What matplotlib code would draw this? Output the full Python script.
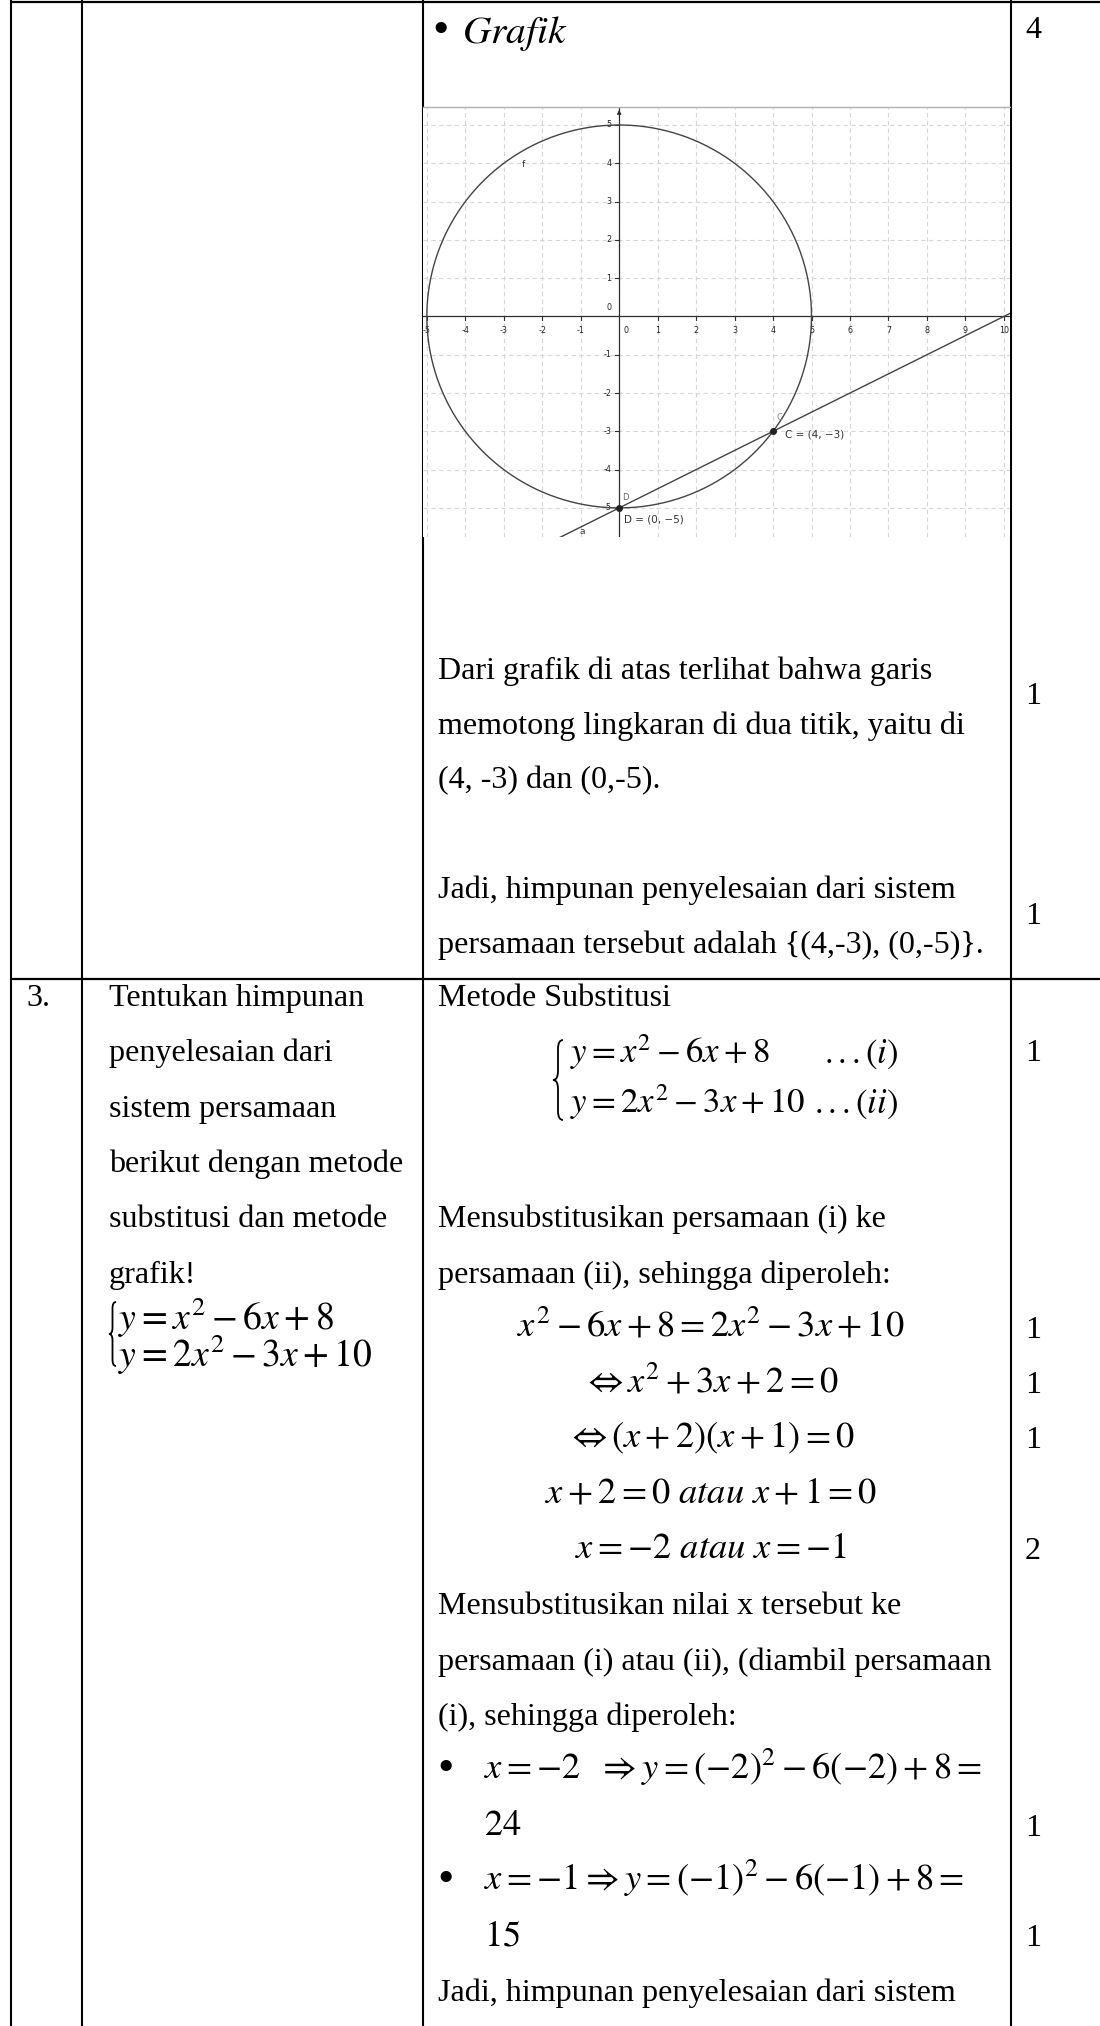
import numpy as np
import matplotlib
matplotlib.use('Agg')
import matplotlib.pyplot as plt
from matplotlib.path import Path
from matplotlib.patches import PathPatch

plt.rcParams['mathtext.fontset'] = 'stix'
SERIF = 'Liberation Serif'

# ---- data ----
col_x = [11, 82, 423, 1011]          # table column rules (page px)
row_rules = [2, 979]                  # table row rules (page px)

radius = 5                            # circle x^2 + y^2 = 25
line_slope, line_icept = 0.5, -5      # line a: y = x/2 - 5
pt_names = ['C', 'D']
pt_x = [4, 0]
pt_y = [-3, -5]
x_ticks = list(range(-5, 11))
y_ticks = list(range(-5, 6))

row2_text = ['Dari grafik di atas terlihat bahwa garis',
             'memotong lingkaran di dua titik, yaitu di',
             '(4, -3) dan (0,-5).',
             '',
             'Jadi, himpunan penyelesaian dari sistem',
             'persamaan tersebut adalah {(4,-3), (0,-5)}.']
row2_scores = ['4', '1', '1']

left_text = ['Tentukan himpunan', 'penyelesaian dari', 'sistem persamaan',
             'berikut dengan metode', 'substitusi dan metode', 'grafik!']
left_sys = [r'$y=x^2-6x+8$', r'$y=2x^2-3x+10$']

right_rows = [0, 4, 5, 11, 12, 13, 18]
right_text = ['Metode Substitusi',
              'Mensubstitusikan persamaan (i) ke',
              'persamaan (ii), sehingga diperoleh:',
              'Mensubstitusikan nilai x tersebut ke',
              'persamaan (i) atau (ii), (diambil persamaan',
              '(i), sehingga diperoleh:',
              'Jadi, himpunan penyelesaian dari sistem']
sys_eqs = [r'$y=x^2-6x+8$', r'$y=2x^2-3x+10$']
sys_tags = [r'$...(i)$', r'$...(ii)$']
eq_rows = [6, 7, 8, 9, 10]
eqs = [r'$x^2-6x+8=2x^2-3x+10$',
       r'$\Leftrightarrow x^2+3x+2=0$',
       r'$\Leftrightarrow (x+2)(x+1)=0$',
       r'$x+2=0\ atau\ x+1=0$',
       r'$x=-2\ atau\ x=-1$']
bullet_rows = [14, 16]
bullets = [r'$x=-2\ \ \Rightarrow y=(-2)^2-6(-2)+8=$',
           r'$x=-1\Rightarrow y=(-1)^2-6(-1)+8=$']
result_rows = [15, 17]
results = [r'$24$', r'$15$']
score_rows = [1, 6, 7, 8, 10, 15, 17]
scores = ['1', '1', '1', '1', '2', '1', '1']

# ---- page ----
W, H = 1100, 2026
fig = plt.figure(figsize=(W / 100, H / 100), dpi=100)
ax = fig.add_axes([0, 0, 1, 1])
ax.set_xlim(0, W)
ax.set_ylim(H, 0)
ax.axis('off')
rend = fig.canvas.get_renderer()


def fit(s, target, family=None):
    t = ax.text(0, 0, s, fontsize=20, family=family)
    w = t.get_window_extent(renderer=rend).width
    t.remove()
    return 20 * target / w


body = fit(row2_text[0], 496, SERIF)
mth = fit(eqs[0], 388)
sysz = fit(sys_eqs[1], 235)


def txt(x, y, s, size=None, ha='left', family=SERIF):
    ax.text(x, y, s, fontsize=size or body, ha=ha, va='baseline',
            family=family, color='black')


def bullet(x, y):
    ax.text(x, y, '\u2022', fontsize=body * 1.45, ha='center', va='center',
            family=SERIF, color='black')


def brace(xl, xr, yt, yb, lw=1.3):
    xm = (xl + xr) / 2
    ym = (yt + yb) / 2
    q = (xr - xl) * 0.9
    verts = [(xr, yt), (xm, yt), (xm, yt + q), (xm, ym - q), (xm, ym), (xl, ym),
             (xm, ym), (xm, ym + q), (xm, yb - q), (xm, yb), (xr, yb)]
    codes = [Path.MOVETO, Path.CURVE3, Path.CURVE3, Path.LINETO, Path.CURVE3,
             Path.CURVE3, Path.CURVE3, Path.CURVE3, Path.LINETO, Path.CURVE3,
             Path.CURVE3]
    ax.add_patch(PathPatch(Path(verts, codes), fill=False, lw=lw, color='black'))


# table rules
for x in col_x:
    ax.plot([x, x], [0, H], color='black', lw=1.5, solid_capstyle='butt')
for y in row_rules:
    ax.plot([col_x[0], W], [y, y], color='black', lw=1.6, solid_capstyle='butt')

# row 2 continuation
bullet(441, 32)
ax.text(462, 43, r'$Grafik$', fontsize=mth * 1.08, va='baseline')
txt(1025, 38, row2_scores[0])
for i, s in enumerate(row2_text):
    if s:
        txt(438, 679 + 54.8 * i, s)
txt(1025, 704, row2_scores[1])
txt(1025, 924, row2_scores[2])

# row 3
r0, rh = 1006, 55.3
txt(26, r0, '3.')
for i, s in enumerate(left_text):
    txt(109, r0 + rh * i, s)
brace(109, 116, 1302, 1366)
ax.text(118, 1336, left_sys[0] + '\n' + left_sys[1], fontsize=mth * 1.03,
        va='center', ha='left', linespacing=0.78)

for r, s in zip(right_rows, right_text):
    txt(438, r0 + rh * r, s)
brace(553, 563, 1040, 1120)
for i, (s, tg) in enumerate(zip(sys_eqs, sys_tags)):
    yb = 1063 + 50 * i
    ax.text(570, yb, s, fontsize=sysz, va='baseline')
    ax.text(824 - 10 * i, yb, tg, fontsize=sysz, va='baseline')
for r, s in zip(eq_rows, eqs):
    ax.text(711, r0 - 1 + rh * r, s, fontsize=mth, ha='center', va='baseline')
for r, s in zip(bullet_rows, bullets):
    bullet(446, r0 - 10 + rh * r)
    ax.text(484, r0 - 1 + rh * r, s, fontsize=mth, va='baseline')
for r, s in zip(result_rows, results):
    ax.text(484, r0 - 1 + rh * r, s, fontsize=mth, va='baseline')
for r, s in zip(score_rows, scores):
    txt(1025, r0 + rh * r, s)

# ---- graph ----
gx0, gx1, gy0, gy1 = 423, 1010, 107, 537
g = fig.add_axes([gx0 / W, 1 - gy1 / H, (gx1 - gx0) / W, (gy1 - gy0) / H])
g.set_xlim(-5.10, 10.16)
g.set_ylim(-5.76, 5.47)
g.set_xticks([])
g.set_yticks([])
for sp in ['left', 'right', 'bottom']:
    g.spines[sp].set_visible(False)
g.spines['top'].set_color('#b0b0b0')
g.spines['top'].set_linewidth(1.0)

for xv in x_ticks:
    g.axvline(xv, color='#d6d6d6', lw=0.8, ls=(0, (4, 3)), zorder=0)
for yv in y_ticks:
    g.axhline(yv, color='#d6d6d6', lw=0.8, ls=(0, (4, 3)), zorder=0)
g.axhline(0, color='#303030', lw=0.9, zorder=2)
g.axvline(0, color='#303030', lw=0.9, zorder=2)
g.annotate('', xy=(0, 5.47), xytext=(0, 5.25),
           arrowprops=dict(arrowstyle='-|>', color='#303030', lw=0.8,
                           mutation_scale=6))

for xv in x_ticks:
    if xv == 0:
        continue
    g.plot([xv, xv], [0, -0.1], color='#303030', lw=0.8)
    g.text(xv, -0.24, str(xv), fontsize=5.8, ha='center', va='top', color='#222')
for yv in y_ticks:
    if yv == 0:
        continue
    g.plot([-0.1, 0], [yv, yv], color='#303030', lw=0.8)
    g.text(-0.2, yv, str(yv), fontsize=5.8, ha='right', va='center', color='#222')
g.text(0.17, -0.24, '0', fontsize=5.8, ha='center', va='top', color='#222')
g.text(-0.2, 0.12, '0', fontsize=5.8, ha='right', va='bottom', color='#222')

theta = np.linspace(0, 2 * np.pi, 500)
g.plot(radius * np.cos(theta), radius * np.sin(theta), color='#444', lw=1.0, zorder=3)
lx = np.array([-5.10, 10.16])
g.plot(lx, line_slope * lx + line_icept, color='#444', lw=1.0, zorder=3)
g.scatter(pt_x, pt_y, s=16, color='#222', zorder=5)

g.text(4.1, -2.75, pt_names[0], fontsize=6, color='#888', va='bottom')
g.text(4.3, -3.08, '%s = (%d, \u2212%d)' % (pt_names[0], pt_x[0], -pt_y[0]),
       fontsize=7.5, color='#333', va='center')
g.text(0.08, -4.85, pt_names[1], fontsize=6, color='#666', va='bottom')
g.text(0.12, -5.3, '%s = (%d, \u2212%d)' % (pt_names[1], pt_x[1], -pt_y[1]),
       fontsize=7.5, color='#333', va='center')
g.text(-2.5, 3.96, 'f', fontsize=6.5, color='#333', ha='center', va='center')
g.text(-0.95, -5.61, 'a', fontsize=6.5, color='#333', ha='center', va='center')

fig.savefig('out.png', dpi=100)
